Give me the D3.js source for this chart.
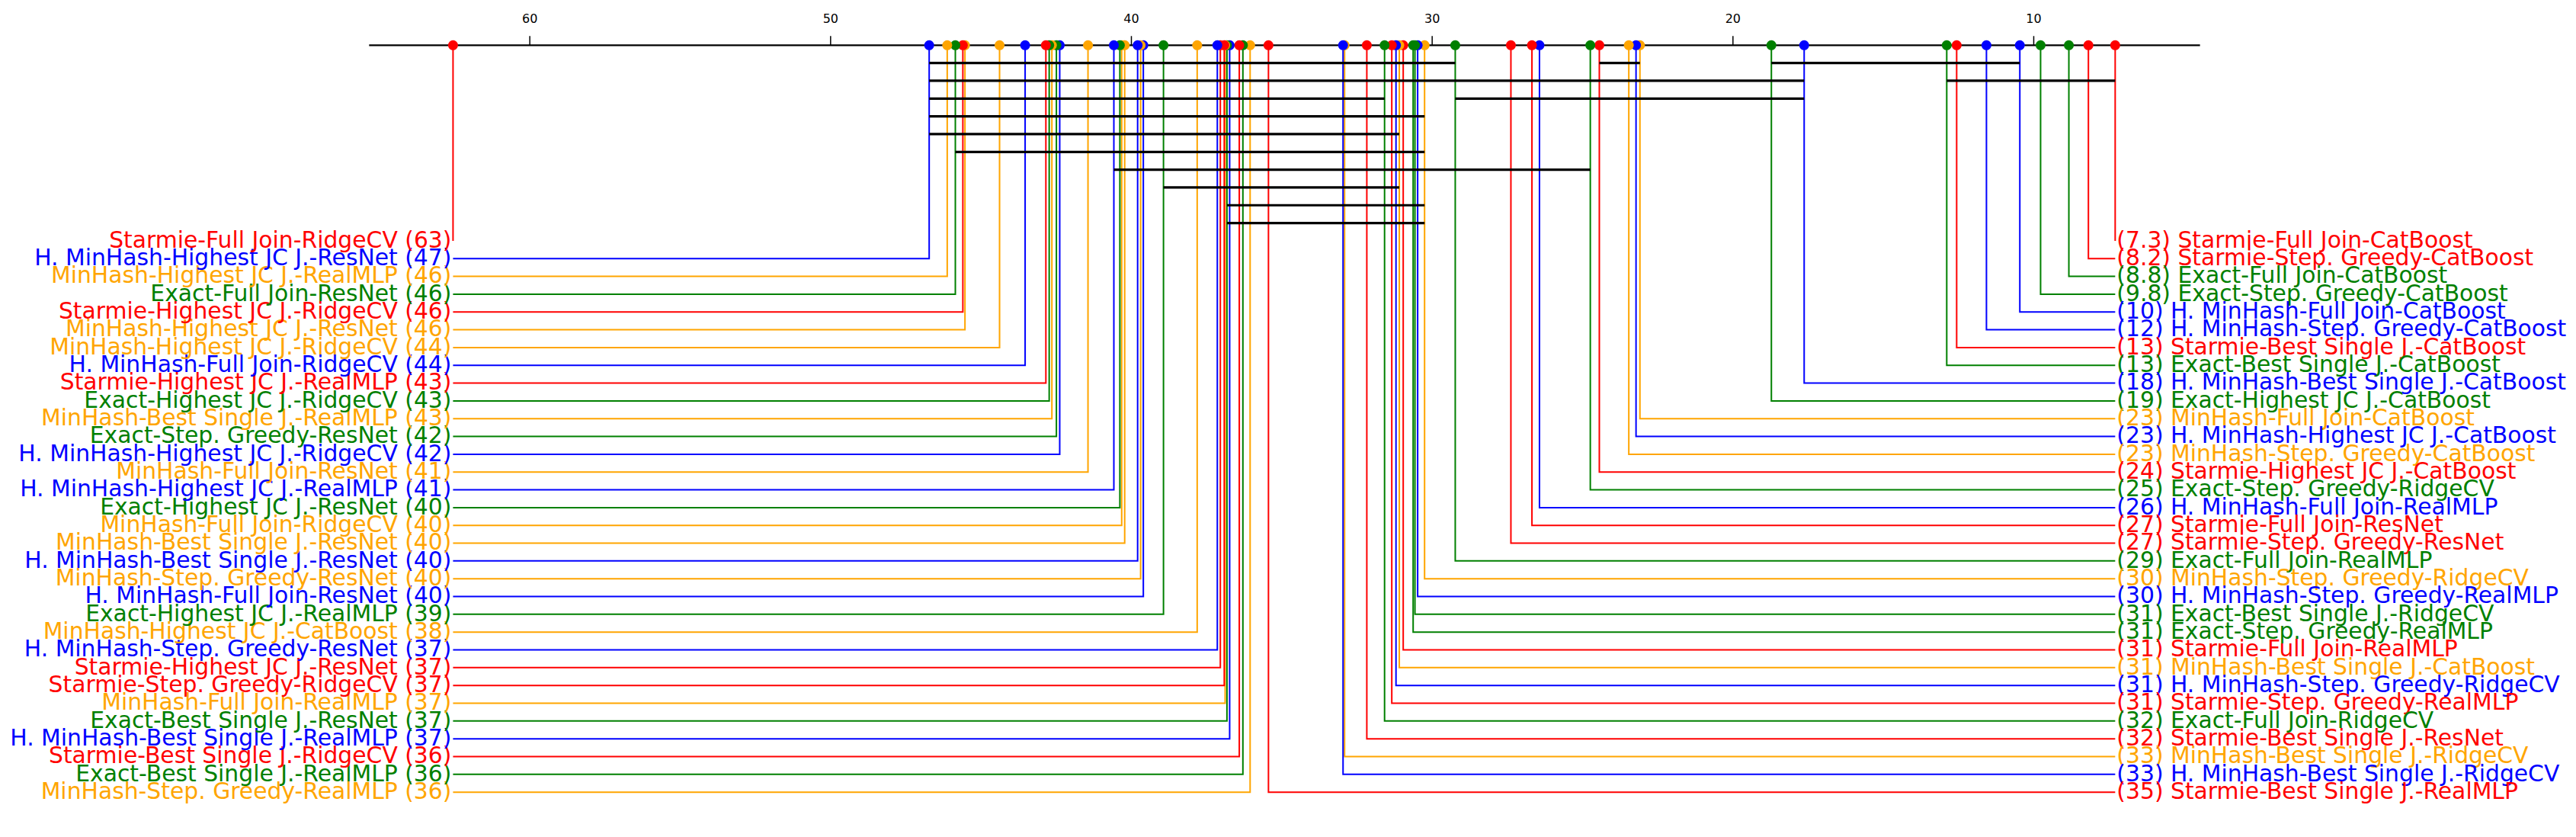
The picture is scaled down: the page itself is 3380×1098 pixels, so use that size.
<!DOCTYPE html>
<html><head><meta charset="utf-8">
<script src="https://cdn.jsdelivr.net/npm/d3@7/dist/d3.min.js"></script>
<style>body{margin:0;background:#fff}svg{display:block}</style>
</head><body><svg id="chart" width="3380" height="1098"></svg>
<script>
// Methods sorted by average rank (best first)
const methodNames = [
  "Starmie-Full Join-CatBoost","Starmie-Step. Greedy-CatBoost","Exact-Full Join-CatBoost","Exact-Step. Greedy-CatBoost",
  "H. MinHash-Full Join-CatBoost","H. MinHash-Step. Greedy-CatBoost","Starmie-Best Single J.-CatBoost","Exact-Best Single J.-CatBoost",
  "H. MinHash-Best Single J.-CatBoost","Exact-Highest JC J.-CatBoost","MinHash-Full Join-CatBoost","H. MinHash-Highest JC J.-CatBoost",
  "MinHash-Step. Greedy-CatBoost","Starmie-Highest JC J.-CatBoost","Exact-Step. Greedy-RidgeCV","H. MinHash-Full Join-RealMLP",
  "Starmie-Full Join-ResNet","Starmie-Step. Greedy-ResNet","Exact-Full Join-RealMLP","MinHash-Step. Greedy-RidgeCV",
  "H. MinHash-Step. Greedy-RealMLP","Exact-Best Single J.-RidgeCV","Exact-Step. Greedy-RealMLP","Starmie-Full Join-RealMLP",
  "MinHash-Best Single J.-CatBoost","H. MinHash-Step. Greedy-RidgeCV","Starmie-Step. Greedy-RealMLP","Exact-Full Join-RidgeCV",
  "Starmie-Best Single J.-ResNet","MinHash-Best Single J.-RidgeCV","H. MinHash-Best Single J.-RidgeCV","Starmie-Best Single J.-RealMLP",
  "MinHash-Step. Greedy-RealMLP","Exact-Best Single J.-RealMLP","Starmie-Best Single J.-RidgeCV","H. MinHash-Best Single J.-RealMLP",
  "Exact-Best Single J.-ResNet","MinHash-Full Join-RealMLP","Starmie-Step. Greedy-RidgeCV","Starmie-Highest JC J.-ResNet",
  "H. MinHash-Step. Greedy-ResNet","MinHash-Highest JC J.-CatBoost","Exact-Highest JC J.-RealMLP","H. MinHash-Full Join-ResNet",
  "MinHash-Step. Greedy-ResNet","H. MinHash-Best Single J.-ResNet","MinHash-Best Single J.-ResNet","MinHash-Full Join-RidgeCV",
  "Exact-Highest JC J.-ResNet","H. MinHash-Highest JC J.-RealMLP","MinHash-Full Join-ResNet","H. MinHash-Highest JC J.-RidgeCV",
  "Exact-Step. Greedy-ResNet","MinHash-Best Single J.-RealMLP","Exact-Highest JC J.-RidgeCV","Starmie-Highest JC J.-RealMLP",
  "H. MinHash-Full Join-RidgeCV","MinHash-Highest JC J.-RidgeCV","MinHash-Highest JC J.-ResNet","Starmie-Highest JC J.-RidgeCV",
  "Exact-Full Join-ResNet","MinHash-Highest JC J.-RealMLP","H. MinHash-Highest JC J.-ResNet","Starmie-Full Join-RidgeCV"
];
const avgRanks = [
  7.28, 8.17, 8.82, 9.76,
  10.45, 11.56, 12.55, 12.88,
  17.62, 18.71, 23.08, 23.21,
  23.45, 24.43, 24.73, 26.42,
  26.67, 27.37, 29.22, 30.24,
  30.47, 30.56, 30.62, 30.95,
  31.08, 31.19, 31.33, 31.57,
  32.16, 32.90, 32.95, 35.43,
  36.04, 36.28, 36.40, 36.72,
  36.81, 36.87, 36.90, 37.03,
  37.13, 37.80, 38.92, 39.59,
  39.68, 39.78, 40.21, 40.31,
  40.37, 40.57, 41.43, 42.37,
  42.48, 42.63, 42.72, 42.83,
  43.52, 44.37, 45.52, 45.59,
  45.84, 46.11, 46.71, 62.54
];
const tickValues = [10, 20, 30, 40, 50, 60];
// groups of methods not significantly different: [first index, last index] in the sorted list
const cliques = [
  [18,62],[8,62],[27,62],[19,62],[24,62],[19,60],[14,49],[24,42],[19,36],[19,36],
  [10,13],[4,9],[8,18],[0,7]
];
const sourceNames = ["Starmie", "H. MinHash", "MinHash", "Exact"];
const sourceColors = ["red", "blue", "orange", "green"];

const colorOf = name => {
  const i = sourceNames.findIndex(s => name.startsWith(s + "-"));
  return sourceColors[i];
};
const fmt = d3.format(".2~g");

const svg = d3.select("#chart");
svg.append("rect").attr("width", 3380).attr("height", 1098).attr("fill", "#fff");

const axisY = 59.3;
const step = 23.33;
const x = d3.scaleLinear().domain([60, 10]).range([694.67, 2668]);
const axisExtent = [65.33, 4.46];

// pack cliques into rows
const rows = [];
const cliqueRow = cliques.map(([a, b]) => {
  let r = 0;
  while (rows[r] && rows[r].some(([c, d]) => !(b < c || a > d))) r++;
  (rows[r] = rows[r] || []).push([a, b]);
  return r;
});
const nCliqueRows = rows.length;

// axis
svg.append("line")
  .attr("x1", x(axisExtent[0])).attr("x2", x(axisExtent[1]))
  .attr("y1", axisY).attr("y2", axisY)
  .attr("stroke", "#000").attr("stroke-width", 2.2);

const axisG = svg.append("g").attr("transform", `translate(0,${axisY})`)
  .call(d3.axisTop(x).tickValues(tickValues).tickSize(12).tickSizeOuter(0).tickPadding(17.3).tickFormat(d3.format("d")));
axisG.select(".domain").remove();
axisG.selectAll(".tick line").attr("stroke", "#000").attr("stroke-width", 1.5);
axisG.selectAll(".tick text").attr("font-family", "DejaVu Sans").attr("font-size", "16px").attr("fill", "#000");

const n = methodNames.length;
const half = Math.ceil(n / 2);
const leftEdge = x(d3.max(avgRanks));
const rightEdge = x(d3.min(avgRanks));

const items = methodNames.map((name, i) => {
  const right = i < half;
  const row = right ? i : (n - 1 - i);
  return {
    name, rank: avgRanks[i], color: colorOf(name), right,
    y: axisY + (nCliqueRows + 1 + row) * step
  };
});

// connectors
const conn = svg.append("g").attr("fill", "none").attr("stroke-width", 2);
items.forEach(d => {
  const xr = x(d.rank);
  const xe = d.right ? rightEdge : leftEdge;
  conn.append("path")
    .attr("d", `M${xr},${axisY}V${d.y}H${xe}`)
    .attr("stroke", d.color);
});

// markers
svg.append("g").selectAll("circle").data(items).join("circle")
  .attr("cx", d => x(d.rank)).attr("cy", axisY).attr("r", 6.5)
  .attr("fill", d => d.color);

// clique bars
svg.append("g").selectAll("line").data(cliques).join("line")
  .attr("x1", d => x(avgRanks[d[1]])).attr("x2", d => x(avgRanks[d[0]]))
  .attr("y1", (d, i) => axisY + (cliqueRow[i] + 1) * step)
  .attr("y2", (d, i) => axisY + (cliqueRow[i] + 1) * step)
  .attr("stroke", "#000").attr("stroke-width", 3.2);

// labels
svg.append("g").attr("font-family", "DejaVu Sans").attr("font-size", "29.8px")
  .selectAll("text").data(items).join("text")
  .attr("x", d => d.right ? rightEdge + 2 : leftEdge - 2)
  .attr("y", d => d.y + 8.8)
  .attr("text-anchor", d => d.right ? "start" : "end")
  .attr("fill", d => d.color)
  .text(d => d.right ? `(${fmt(d.rank)}) ${d.name}` : `${d.name} (${fmt(d.rank)})`);
</script>
</body></html>
